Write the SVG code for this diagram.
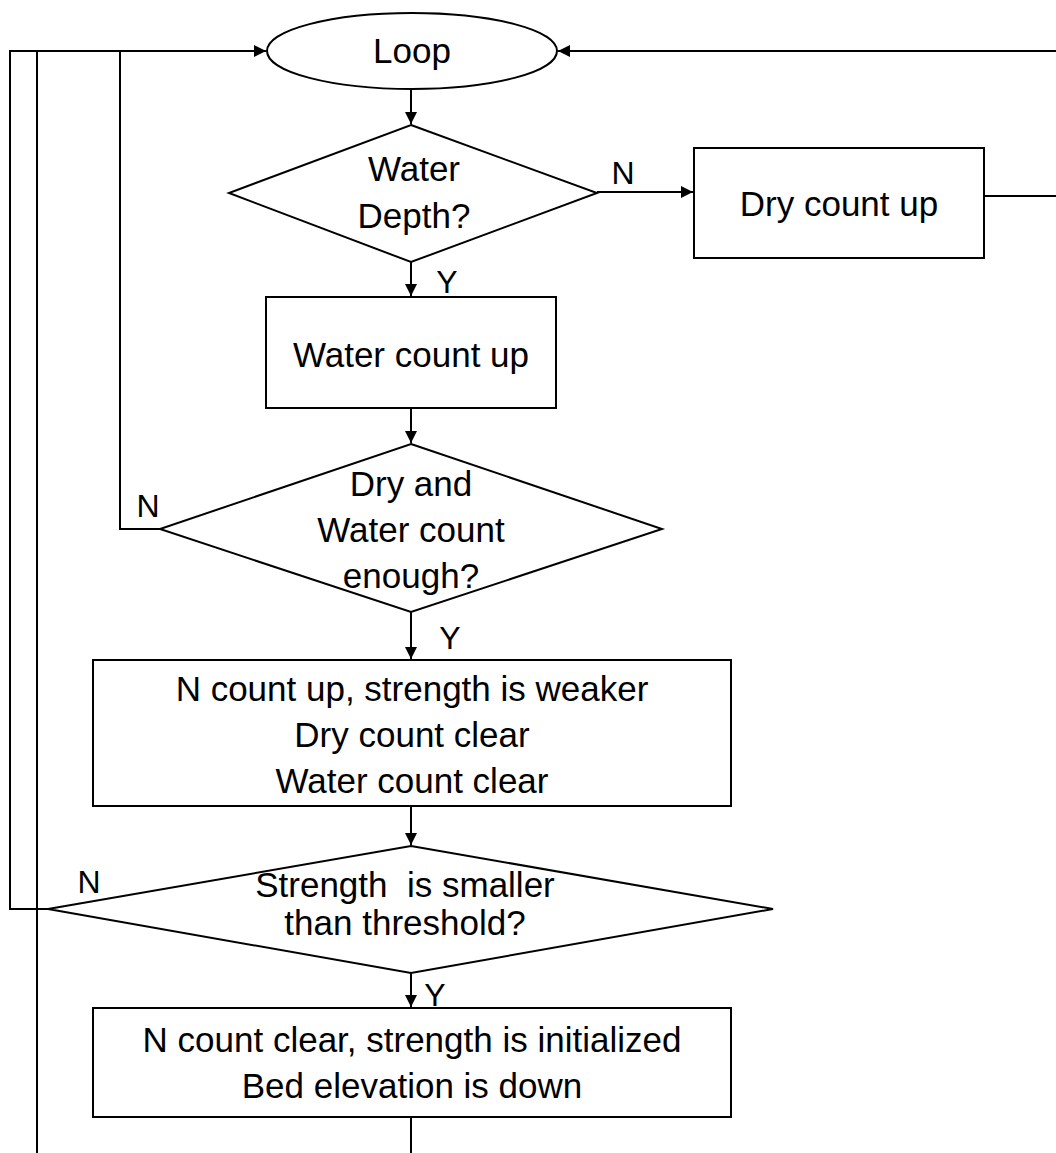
<svg xmlns="http://www.w3.org/2000/svg" width="1056" height="1153" viewBox="0 0 1056 1153">
<style>
.s{fill:#fff;stroke:#000;stroke-width:2}
.c{fill:none;stroke:#000;stroke-width:2}
text{font-family:"Liberation Sans",Arial,sans-serif;font-size:35px;fill:#000;white-space:pre}
.l{font-size:32px}
.m{text-anchor:middle}
</style>
<defs>
<marker id="a" viewBox="0 0 10 10" refX="10" refY="5" markerWidth="12" markerHeight="12" markerUnits="userSpaceOnUse" orient="auto"><path d="M0,0L10,5L0,10z" fill="#000"/></marker>
</defs>
<g id="connectors">
<line class="c" x1="411" y1="89" x2="411" y2="124" marker-end="url(#a)"/>
<line class="c" x1="597" y1="192" x2="693" y2="192" marker-end="url(#a)"/>
<polyline class="c" points="984,196 1056,196"/>
<polyline class="c" points="1056,51 558,51" marker-end="url(#a)"/>
<line class="c" x1="411" y1="262" x2="411" y2="296" marker-end="url(#a)"/>
<line class="c" x1="411" y1="408" x2="411" y2="443" marker-end="url(#a)"/>
<polyline class="c" points="160,529 120,529 120,51"/>
<line class="c" x1="411" y1="612" x2="411" y2="659" marker-end="url(#a)"/>
<line class="c" x1="411" y1="806" x2="411" y2="845" marker-end="url(#a)"/>
<polyline class="c" points="48,909 10,909 10,51 266,51" marker-end="url(#a)"/>
<line class="c" x1="411" y1="973" x2="411" y2="1007" marker-end="url(#a)"/>
<polyline class="c" points="411,1117 411,1153"/>
<polyline class="c" points="37,1153 37,51"/>
<text x="623" y="184" class="m l">N</text>
<text x="447" y="293" class="m l">Y</text>
<text x="148" y="517" class="m l">N</text>
<text x="450" y="649" class="m l">Y</text>
<text x="89" y="893" class="m l">N</text>
<text x="435" y="1006" class="m l">Y</text>
</g>
<g id="loop">
<ellipse class="s" cx="412" cy="51" rx="145" ry="38"/>
<text x="412" y="63" class="m">Loop</text>
</g>
<g id="water-depth">
<polygon class="s" points="411,125 597,193 411,262 229,193"/>
<text x="414" y="181" class="m">Water</text>
<text x="414" y="228" class="m">Depth?</text>
</g>
<g id="dry-count-up">
<rect class="s" x="694" y="148" width="290" height="110"/>
<text x="839" y="216" class="m">Dry count up</text>
</g>
<g id="water-count-up">
<rect class="s" x="266" y="297" width="290" height="111"/>
<text x="411" y="367" class="m">Water count up</text>
</g>
<g id="enough">
<polygon class="s" points="411,444 662,529 411,612 160,529"/>
<text x="411" y="496" class="m">Dry and</text>
<text x="411" y="542" class="m">Water count</text>
<text x="411" y="588" class="m">enough?</text>
</g>
<g id="n-count-up">
<rect class="s" x="93" y="660" width="638" height="146"/>
<text x="412" y="701" class="m">N count up, strength is weaker</text>
<text x="412" y="747" class="m">Dry count clear</text>
<text x="412" y="793" class="m">Water count clear</text>
</g>
<g id="threshold">
<polygon class="s" points="411,846 773,909 411,973 48,909"/>
<text x="405" y="897" class="m">Strength  is smaller</text>
<text x="405" y="935" class="m">than threshold?</text>
</g>
<g id="n-count-clear">
<rect class="s" x="93" y="1008" width="638" height="109"/>
<text x="412" y="1052" class="m">N count clear, strength is initialized</text>
<text x="412" y="1098" class="m">Bed elevation is down</text>
</g>
</svg>
